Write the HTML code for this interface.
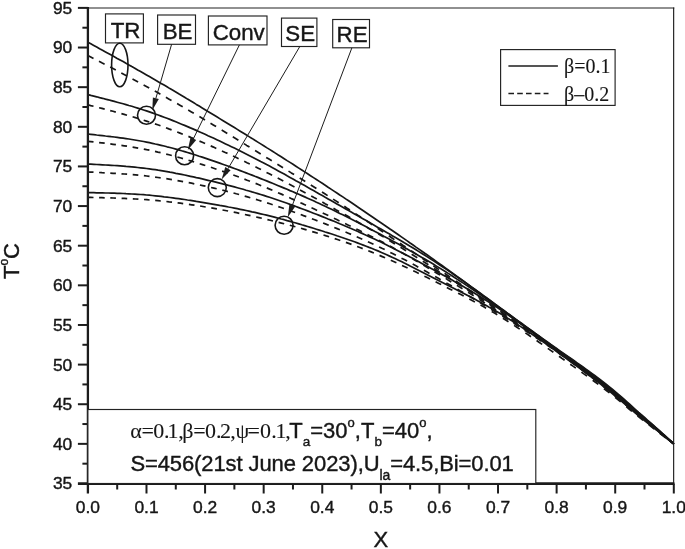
<!DOCTYPE html>
<html><head><meta charset="utf-8"><title>T vs X</title>
<style>html,body{margin:0;padding:0;background:#fff}svg{display:block}text{font-family:"Liberation Sans",Arial,sans-serif;fill:#161616;stroke:#161616;stroke-width:0.4px}.se{font-family:"Liberation Serif","Times New Roman",serif;stroke-width:0.1px}</style>
</head><body>
<svg width="685" height="549" viewBox="0 0 685 549">
<rect width="685" height="549" fill="#fff"/>
<g fill="none" stroke="#161616" stroke-width="1.7" stroke-linejoin="round">
<path d="M87.9 42.2 L90.8 43.8 L93.8 45.4 L96.7 47.0 L99.6 48.7 L102.5 50.3 L105.5 51.9 L108.4 53.5 L111.3 55.1 L114.3 56.7 L117.2 58.4 L120.1 60.0 L123.1 61.6 L126.0 63.3 L128.9 64.9 L131.8 66.6 L134.8 68.2 L137.7 69.9 L140.6 71.5 L143.6 73.2 L146.5 74.9 L149.4 76.6 L152.3 78.3 L155.3 80.0 L158.2 81.7 L161.1 83.4 L164.1 85.1 L167.0 86.8 L169.9 88.6 L172.9 90.3 L175.8 92.0 L178.7 93.8 L181.6 95.5 L184.6 97.3 L187.5 99.1 L190.4 100.8 L193.4 102.6 L196.3 104.4 L199.2 106.1 L202.2 107.9 L205.1 109.7 L208.0 111.5 L210.9 113.2 L213.9 115.0 L216.8 116.8 L219.7 118.6 L222.7 120.4 L225.6 122.2 L228.5 124.0 L231.4 125.8 L234.4 127.6 L237.3 129.4 L240.2 131.2 L243.2 133.0 L246.1 134.8 L249.0 136.6 L252.0 138.4 L254.9 140.3 L257.8 142.1 L260.7 143.9 L263.7 145.7 L266.6 147.6 L269.5 149.4 L272.5 151.3 L275.4 153.1 L278.3 155.0 L281.2 156.8 L284.2 158.7 L287.1 160.6 L290.0 162.4 L293.0 164.3 L295.9 166.2 L298.8 168.1 L301.8 170.0 L304.7 171.9 L307.6 173.8 L310.5 175.7 L313.5 177.6 L316.4 179.5 L319.3 181.4 L322.3 183.3 L325.2 185.2 L328.1 187.2 L331.0 189.1 L334.0 191.1 L336.9 193.0 L339.8 195.0 L342.8 196.9 L345.7 198.9 L348.6 200.8 L351.6 202.8 L354.5 204.8 L357.4 206.8 L360.3 208.7 L363.3 210.7 L366.2 212.7 L369.1 214.7 L372.1 216.7 L375.0 218.7 L377.9 220.7 L380.9 222.7 L383.8 224.7 L386.7 226.7 L389.6 228.8 L392.6 230.8 L395.5 232.8 L398.4 234.8 L401.4 236.9 L404.3 238.9 L407.2 240.9 L410.1 243.0 L413.1 245.0 L416.0 247.1 L418.9 249.1 L421.9 251.2 L424.8 253.3 L427.7 255.3 L430.7 257.4 L433.6 259.5 L436.5 261.6 L439.4 263.7 L442.4 265.8 L445.3 267.9 L448.2 270.0 L451.2 272.1 L454.1 274.3 L457.0 276.4 L459.9 278.5 L462.9 280.6 L465.8 282.8 L468.7 284.9 L471.7 287.1 L474.6 289.2 L477.5 291.4 L480.5 293.5 L483.4 295.7 L486.3 297.8 L489.2 300.0 L492.2 302.1 L495.1 304.3 L498.0 306.4 L501.0 308.6 L503.9 310.7 L506.8 312.9 L509.7 315.0 L512.7 317.2 L515.6 319.3 L518.5 321.4 L521.5 323.6 L524.4 325.7 L527.3 327.8 L530.3 330.0 L533.2 332.1 L536.1 334.2 L539.0 336.3 L542.0 338.5 L544.9 340.6 L547.8 342.7 L550.8 344.8 L553.7 346.9 L556.6 349.0 L559.5 351.0 L562.5 353.1 L565.4 355.2 L568.3 357.3 L571.3 359.3 L574.2 361.4 L577.1 363.5 L580.1 365.6 L583.0 367.7 L585.9 369.8 L588.8 372.0 L591.8 374.2 L594.7 376.3 L597.6 378.5 L600.6 380.8 L603.5 383.1 L606.4 385.4 L609.4 387.7 L612.3 390.1 L615.2 392.5 L618.1 395.0 L621.1 397.5 L624.0 400.0 L626.9 402.6 L629.9 405.2 L632.8 407.9 L635.7 410.5 L638.6 413.0 L641.6 415.6 L644.5 418.1 L647.4 420.6 L650.4 423.1 L653.3 425.6 L656.2 428.2 L659.2 430.8 L662.1 433.4 L665.0 436.0 L667.9 438.6 L670.9 441.2 L673.8 443.9"/>
<path d="M87.9 55.5 L90.7 56.9 L93.5 58.4M99.0 61.3 L101.8 62.8 L104.6 64.2M110.2 67.1 L113.0 68.6 L115.8 70.1M121.3 73.0 L124.1 74.5 L126.9 76.0M132.5 79.0 L135.3 80.5 L138.1 82.0M143.6 85.0 L146.4 86.5 L149.2 88.0M154.8 91.1 L157.6 92.6 L160.4 94.2M165.9 97.3 L168.7 98.9 L171.5 100.5M177.1 103.6 L179.9 105.2 L182.7 106.8M188.2 110.1 L191.0 111.7 L193.8 113.3M199.4 116.6 L202.2 118.2 L205.0 119.9M210.5 123.2 L213.3 124.9 L216.1 126.6M221.7 130.0 L224.5 131.7 L227.3 133.4M232.8 136.8 L235.6 138.5 L238.4 140.2M243.9 143.6 L246.7 145.4 L249.5 147.1M255.1 150.5 L257.9 152.2 L260.7 154.0M266.2 157.4 L269.0 159.1 L271.8 160.8M277.4 164.3 L280.2 166.0 L283.0 167.7M288.5 171.1 L291.3 172.9 L294.1 174.6M299.7 178.0 L302.5 179.8 L305.3 181.5M310.8 185.0 L313.6 186.7 L316.4 188.5M322.0 192.0 L324.8 193.8 L327.6 195.6M333.1 199.1 L335.9 200.9 L338.7 202.7M344.3 206.3 L347.1 208.2 L349.9 210.0M355.4 213.6 L358.2 215.5 L361.0 217.3M366.6 221.0 L369.4 222.8 L372.2 224.7M377.7 228.4 L380.5 230.2 L383.3 232.1M388.8 235.8 L391.6 237.7 L394.4 239.6M400.0 243.3 L402.8 245.2 L405.6 247.0M411.1 250.8 L413.9 252.7 L416.7 254.6M422.3 258.3 L425.1 260.2 L427.9 262.1M433.4 265.8 L436.2 267.7 L439.0 269.6M444.6 273.3 L447.4 275.2 L450.2 277.1M455.7 280.9 L458.5 282.8 L461.3 284.7M466.9 288.4 L469.7 290.3 L472.5 292.2M478.0 296.0 L480.8 297.9 L483.6 299.8M489.2 303.6 L492.0 305.5 L494.8 307.4M500.3 311.2 L503.1 313.1 L505.9 315.1M511.4 318.9 L514.2 320.8 L517.0 322.8M522.6 326.6 L525.4 328.5 L528.2 330.5M533.7 334.3 L536.5 336.3 L539.3 338.2M544.9 342.1 L547.7 344.1 L550.5 346.0M556.0 349.9 L558.8 351.9 L561.6 353.8M567.2 357.8 L570.0 359.7 L572.8 361.7M578.3 365.7 L581.1 367.7 L583.9 369.7M589.5 373.8 L592.3 375.9 L595.1 378.0M600.6 382.3 L603.4 384.4 L606.2 386.6M611.8 391.1 L614.6 393.4 L617.4 395.7M622.9 400.4 L625.7 402.9 L628.5 405.3M634.1 410.2 L636.9 412.6 L639.7 415.0M645.2 419.6 L648.0 422.0 L650.8 424.3M656.3 429.0 L659.1 431.4 L661.9 433.8M667.5 438.5 L670.3 440.9 L673.1 443.3"/>
<path d="M87.9 94.6 L90.8 95.4 L93.8 96.1 L96.7 96.8 L99.6 97.6 L102.5 98.3 L105.5 99.1 L108.4 99.8 L111.3 100.6 L114.3 101.4 L117.2 102.2 L120.1 103.0 L123.1 103.8 L126.0 104.6 L128.9 105.5 L131.8 106.3 L134.8 107.2 L137.7 108.1 L140.6 109.0 L143.6 110.0 L146.5 110.9 L149.4 111.9 L152.3 112.9 L155.3 114.0 L158.2 115.0 L161.1 116.1 L164.1 117.2 L167.0 118.3 L169.9 119.4 L172.9 120.6 L175.8 121.8 L178.7 123.0 L181.6 124.2 L184.6 125.4 L187.5 126.6 L190.4 127.9 L193.4 129.1 L196.3 130.4 L199.2 131.7 L202.2 133.0 L205.1 134.3 L208.0 135.7 L210.9 137.0 L213.9 138.3 L216.8 139.7 L219.7 141.1 L222.7 142.5 L225.6 143.9 L228.5 145.3 L231.4 146.7 L234.4 148.1 L237.3 149.5 L240.2 151.0 L243.2 152.5 L246.1 153.9 L249.0 155.4 L252.0 156.9 L254.9 158.4 L257.8 159.9 L260.7 161.5 L263.7 163.0 L266.6 164.6 L269.5 166.1 L272.5 167.7 L275.4 169.3 L278.3 170.9 L281.2 172.5 L284.2 174.1 L287.1 175.8 L290.0 177.4 L293.0 179.0 L295.9 180.7 L298.8 182.3 L301.8 184.0 L304.7 185.6 L307.6 187.3 L310.5 188.9 L313.5 190.6 L316.4 192.3 L319.3 193.9 L322.3 195.6 L325.2 197.3 L328.1 198.9 L331.0 200.6 L334.0 202.3 L336.9 203.9 L339.8 205.6 L342.8 207.3 L345.7 208.9 L348.6 210.6 L351.6 212.3 L354.5 213.9 L357.4 215.6 L360.3 217.3 L363.3 219.0 L366.2 220.6 L369.1 222.3 L372.1 224.0 L375.0 225.7 L377.9 227.4 L380.9 229.1 L383.8 230.7 L386.7 232.4 L389.6 234.1 L392.6 235.9 L395.5 237.6 L398.4 239.3 L401.4 241.0 L404.3 242.8 L407.2 244.5 L410.1 246.3 L413.1 248.0 L416.0 249.8 L418.9 251.6 L421.9 253.5 L424.8 255.3 L427.7 257.1 L430.7 259.0 L433.6 260.9 L436.5 262.8 L439.4 264.7 L442.4 266.7 L445.3 268.6 L448.2 270.6 L451.2 272.6 L454.1 274.7 L457.0 276.7 L459.9 278.7 L462.9 280.8 L465.8 282.9 L468.7 285.0 L471.7 287.1 L474.6 289.2 L477.5 291.3 L480.5 293.4 L483.4 295.6 L486.3 297.7 L489.2 299.8 L492.2 302.0 L495.1 304.1 L498.0 306.3 L501.0 308.4 L503.9 310.5 L506.8 312.7 L509.7 314.8 L512.7 316.9 L515.6 319.1 L518.5 321.2 L521.5 323.3 L524.4 325.5 L527.3 327.6 L530.3 329.7 L533.2 331.8 L536.1 333.9 L539.0 336.0 L542.0 338.1 L544.9 340.2 L547.8 342.3 L550.8 344.4 L553.7 346.4 L556.6 348.5 L559.5 350.6 L562.5 352.6 L565.4 354.7 L568.3 356.7 L571.3 358.8 L574.2 360.8 L577.1 362.9 L580.1 364.9 L583.0 367.0 L585.9 369.1 L588.8 371.2 L591.8 373.4 L594.7 375.5 L597.6 377.7 L600.6 380.0 L603.5 382.2 L606.4 384.5 L609.4 386.8 L612.3 389.2 L615.2 391.6 L618.1 394.1 L621.1 396.6 L624.0 399.2 L626.9 401.8 L629.9 404.5 L632.8 407.1 L635.7 409.8 L638.6 412.4 L641.6 414.9 L644.5 417.5 L647.4 420.1 L650.4 422.6 L653.3 425.2 L656.2 427.8 L659.2 430.4 L662.1 433.1 L665.0 435.7 L667.9 438.4 L670.9 441.1 L673.8 443.9"/>
<path d="M87.9 104.8 L90.7 105.6 L93.5 106.3M99.1 107.7 L101.9 108.4 L104.7 109.1M110.2 110.6 L113.0 111.3 L115.8 112.1M121.4 113.6 L124.2 114.4 L127.0 115.2M132.6 116.8 L135.4 117.6 L138.2 118.5M143.7 120.2 L146.5 121.1 L149.3 122.0M154.9 123.9 L157.7 124.8 L160.5 125.8M166.0 127.8 L168.8 128.9 L171.6 129.9M177.2 132.0 L180.0 133.1 L182.8 134.2M188.4 136.4 L191.2 137.6 L194.0 138.7M199.5 141.1 L202.3 142.3 L205.1 143.5M210.7 145.9 L213.5 147.1 L216.3 148.4M221.9 150.9 L224.7 152.2 L227.5 153.4M233.0 156.0 L235.8 157.3 L238.6 158.7M244.2 161.3 L247.0 162.7 L249.8 164.0M255.4 166.8 L258.2 168.2 L261.0 169.6M266.5 172.4 L269.3 173.8 L272.1 175.3M277.7 178.1 L280.5 179.6 L283.3 181.1M288.9 184.0 L291.7 185.5 L294.5 187.0M300.0 190.0 L302.8 191.5 L305.6 193.0M311.2 196.0 L314.0 197.6 L316.8 199.1M322.3 202.1 L325.1 203.7 L327.9 205.2M333.5 208.3 L336.3 209.9 L339.1 211.4M344.7 214.5 L347.5 216.1 L350.3 217.7M355.8 220.8 L358.6 222.4 L361.4 224.1M367.0 227.3 L369.8 228.9 L372.6 230.5M378.2 233.8 L381.0 235.5 L383.8 237.1M389.3 240.5 L392.1 242.2 L394.9 243.9M400.5 247.3 L403.3 249.0 L406.1 250.8M411.7 254.2 L414.5 256.0 L417.3 257.7M422.8 261.3 L425.6 263.0 L428.4 264.8M434.0 268.4 L436.8 270.2 L439.6 272.0M445.1 275.5 L447.9 277.3 L450.7 279.1M456.3 282.8 L459.1 284.6 L461.9 286.4M467.5 290.0 L470.3 291.9 L473.1 293.7M478.6 297.4 L481.4 299.2 L484.2 301.1M489.8 304.8 L492.6 306.7 L495.4 308.5M501.0 312.3 L503.8 314.2 L506.6 316.1M512.1 319.8 L514.9 321.8 L517.7 323.7M523.3 327.5 L526.1 329.4 L528.9 331.3M534.5 335.2 L537.3 337.1 L540.1 339.1M545.6 343.0 L548.4 344.9 L551.2 346.9M556.8 350.8 L559.6 352.8 L562.4 354.8M568.0 358.7 L570.8 360.7 L573.6 362.7M579.1 366.7 L581.9 368.8 L584.7 370.8M590.3 374.9 L593.1 377.0 L595.9 379.2M601.4 383.5 L604.2 385.6 L607.0 387.9M612.6 392.4 L615.4 394.7 L618.2 397.0M623.8 401.7 L626.6 404.2 L629.4 406.6M634.9 411.4 L637.7 413.8 L640.5 416.2M646.1 420.8 L648.9 423.1 L651.7 425.4M657.3 430.0 L660.1 432.4 L662.9 434.7M668.4 439.4 L671.1 441.6 L673.8 443.9"/>
<path d="M87.9 134.0 L90.8 134.3 L93.8 134.6 L96.7 135.0 L99.6 135.3 L102.5 135.6 L105.5 136.0 L108.4 136.3 L111.3 136.7 L114.3 137.0 L117.2 137.4 L120.1 137.8 L123.1 138.2 L126.0 138.6 L128.9 139.0 L131.8 139.5 L134.8 140.0 L137.7 140.5 L140.6 141.0 L143.6 141.5 L146.5 142.1 L149.4 142.7 L152.3 143.3 L155.3 144.0 L158.2 144.6 L161.1 145.3 L164.1 146.0 L167.0 146.8 L169.9 147.5 L172.9 148.3 L175.8 149.1 L178.7 149.9 L181.6 150.8 L184.6 151.6 L187.5 152.5 L190.4 153.4 L193.4 154.3 L196.3 155.2 L199.2 156.2 L202.2 157.1 L205.1 158.1 L208.0 159.1 L210.9 160.1 L213.9 161.1 L216.8 162.1 L219.7 163.1 L222.7 164.2 L225.6 165.2 L228.5 166.3 L231.4 167.4 L234.4 168.5 L237.3 169.5 L240.2 170.6 L243.2 171.8 L246.1 172.9 L249.0 174.0 L252.0 175.1 L254.9 176.3 L257.8 177.4 L260.7 178.6 L263.7 179.8 L266.6 180.9 L269.5 182.1 L272.5 183.3 L275.4 184.5 L278.3 185.7 L281.2 186.9 L284.2 188.1 L287.1 189.3 L290.0 190.6 L293.0 191.8 L295.9 193.1 L298.8 194.3 L301.8 195.6 L304.7 196.9 L307.6 198.2 L310.5 199.5 L313.5 200.8 L316.4 202.2 L319.3 203.5 L322.3 204.9 L325.2 206.3 L328.1 207.7 L331.0 209.1 L334.0 210.5 L336.9 211.9 L339.8 213.4 L342.8 214.8 L345.7 216.3 L348.6 217.8 L351.6 219.3 L354.5 220.8 L357.4 222.3 L360.3 223.8 L363.3 225.3 L366.2 226.8 L369.1 228.4 L372.1 229.9 L375.0 231.5 L377.9 233.0 L380.9 234.6 L383.8 236.2 L386.7 237.7 L389.6 239.3 L392.6 240.9 L395.5 242.5 L398.4 244.1 L401.4 245.7 L404.3 247.4 L407.2 249.0 L410.1 250.7 L413.1 252.3 L416.0 254.0 L418.9 255.7 L421.9 257.4 L424.8 259.1 L427.7 260.8 L430.7 262.6 L433.6 264.3 L436.5 266.1 L439.4 267.9 L442.4 269.7 L445.3 271.5 L448.2 273.4 L451.2 275.3 L454.1 277.2 L457.0 279.1 L459.9 281.0 L462.9 282.9 L465.8 284.9 L468.7 286.8 L471.7 288.8 L474.6 290.8 L477.5 292.8 L480.5 294.8 L483.4 296.8 L486.3 298.9 L489.2 300.9 L492.2 303.0 L495.1 305.1 L498.0 307.1 L501.0 309.2 L503.9 311.3 L506.8 313.4 L509.7 315.5 L512.7 317.6 L515.6 319.8 L518.5 321.9 L521.5 324.0 L524.4 326.1 L527.3 328.3 L530.3 330.4 L533.2 332.6 L536.1 334.7 L539.0 336.8 L542.0 339.0 L544.9 341.1 L547.8 343.3 L550.8 345.4 L553.7 347.5 L556.6 349.6 L559.5 351.8 L562.5 353.9 L565.4 356.0 L568.3 358.1 L571.3 360.2 L574.2 362.3 L577.1 364.5 L580.1 366.6 L583.0 368.7 L585.9 370.9 L588.8 373.1 L591.8 375.2 L594.7 377.4 L597.6 379.7 L600.6 381.9 L603.5 384.2 L606.4 386.5 L609.4 388.9 L612.3 391.2 L615.2 393.6 L618.1 396.1 L621.1 398.6 L624.0 401.1 L626.9 403.7 L629.9 406.3 L632.8 408.8 L635.7 411.4 L638.6 413.9 L641.6 416.4 L644.5 418.9 L647.4 421.3 L650.4 423.8 L653.3 426.3 L656.2 428.7 L659.2 431.2 L662.1 433.8 L665.0 436.3 L667.9 438.8 L670.9 441.3 L673.8 443.9"/>
<path d="M87.9 141.3 L90.7 141.6 L93.5 141.9M99.1 142.6 L101.9 142.9 L104.7 143.2M110.3 143.9 L113.1 144.3 L115.9 144.7M121.4 145.4 L124.2 145.8 L127.0 146.2M132.6 147.1 L135.4 147.6 L138.2 148.1M143.8 149.1 L146.6 149.7 L149.4 150.2M155.0 151.4 L157.8 152.1 L160.6 152.7M166.2 154.1 L169.0 154.8 L171.8 155.5M177.4 157.1 L180.2 157.8 L183.0 158.6M188.5 160.3 L191.3 161.1 L194.1 162.0M199.7 163.7 L202.5 164.6 L205.3 165.5M210.9 167.3 L213.7 168.2 L216.5 169.2M222.1 171.1 L224.9 172.0 L227.7 173.0M233.3 175.0 L236.1 176.0 L238.9 177.0M244.4 179.1 L247.2 180.2 L250.0 181.2M255.6 183.4 L258.4 184.5 L261.2 185.7M266.8 187.9 L269.6 189.1 L272.4 190.3M278.0 192.7 L280.8 193.9 L283.6 195.1M289.2 197.6 L292.0 198.9 L294.8 200.1M300.4 202.7 L303.2 203.9 L306.0 205.2M311.5 207.8 L314.3 209.1 L317.1 210.4M322.7 213.0 L325.5 214.3 L328.3 215.6M333.9 218.3 L336.7 219.6 L339.5 220.9M345.1 223.6 L347.9 224.9 L350.7 226.2M356.3 228.9 L359.1 230.3 L361.9 231.7M367.5 234.5 L370.3 235.9 L373.1 237.3M378.6 240.2 L381.4 241.6 L384.2 243.1M389.8 246.1 L392.6 247.6 L395.4 249.2M401.0 252.2 L403.8 253.8 L406.6 255.4M412.2 258.6 L415.0 260.2 L417.8 261.8M423.4 265.0 L426.2 266.7 L429.0 268.4M434.5 271.7 L437.3 273.4 L440.1 275.1M445.7 278.4 L448.5 280.2 L451.3 281.9M456.9 285.3 L459.7 287.1 L462.5 288.8M468.1 292.3 L470.9 294.1 L473.7 295.8M479.3 299.4 L482.1 301.2 L484.9 303.0M490.5 306.6 L493.3 308.4 L496.1 310.2M501.6 313.8 L504.4 315.7 L507.2 317.5M512.8 321.2 L515.6 323.1 L518.4 324.9M524.0 328.7 L526.8 330.6 L529.6 332.4M535.2 336.2 L538.0 338.1 L540.8 340.1M546.4 343.9 L549.2 345.8 L552.0 347.8M557.5 351.7 L560.3 353.7 L563.1 355.7M568.7 359.6 L571.5 361.6 L574.3 363.7M579.9 367.7 L582.7 369.8 L585.5 371.9M591.1 376.1 L593.9 378.2 L596.7 380.4M602.3 384.7 L605.1 386.9 L607.9 389.2M613.5 393.7 L616.3 396.0 L619.1 398.4M624.6 403.1 L627.4 405.6 L630.2 408.0M635.8 412.8 L638.6 415.1 L641.4 417.4M647.0 422.0 L649.8 424.2 L652.6 426.5M658.2 431.1 L661.0 433.4 L663.8 435.7M669.4 440.3 L671.6 442.1 L673.8 443.9"/>
<path d="M87.9 164.1 L90.8 164.2 L93.8 164.3 L96.7 164.5 L99.6 164.6 L102.5 164.8 L105.5 165.0 L108.4 165.1 L111.3 165.3 L114.3 165.5 L117.2 165.7 L120.1 165.9 L123.1 166.1 L126.0 166.4 L128.9 166.6 L131.8 166.9 L134.8 167.2 L137.7 167.5 L140.6 167.8 L143.6 168.1 L146.5 168.5 L149.4 168.9 L152.3 169.3 L155.3 169.7 L158.2 170.2 L161.1 170.6 L164.1 171.1 L167.0 171.6 L169.9 172.2 L172.9 172.7 L175.8 173.3 L178.7 173.8 L181.6 174.4 L184.6 175.0 L187.5 175.7 L190.4 176.3 L193.4 176.9 L196.3 177.6 L199.2 178.2 L202.2 178.9 L205.1 179.6 L208.0 180.3 L210.9 181.0 L213.9 181.7 L216.8 182.4 L219.7 183.1 L222.7 183.9 L225.6 184.6 L228.5 185.4 L231.4 186.1 L234.4 186.9 L237.3 187.7 L240.2 188.5 L243.2 189.3 L246.1 190.2 L249.0 191.0 L252.0 191.9 L254.9 192.7 L257.8 193.6 L260.7 194.5 L263.7 195.4 L266.6 196.4 L269.5 197.3 L272.5 198.3 L275.4 199.3 L278.3 200.3 L281.2 201.3 L284.2 202.3 L287.1 203.3 L290.0 204.4 L293.0 205.4 L295.9 206.5 L298.8 207.6 L301.8 208.7 L304.7 209.8 L307.6 210.9 L310.5 212.0 L313.5 213.2 L316.4 214.3 L319.3 215.4 L322.3 216.6 L325.2 217.8 L328.1 219.0 L331.0 220.1 L334.0 221.3 L336.9 222.5 L339.8 223.8 L342.8 225.0 L345.7 226.2 L348.6 227.5 L351.6 228.7 L354.5 230.0 L357.4 231.3 L360.3 232.6 L363.3 233.9 L366.2 235.3 L369.1 236.6 L372.1 238.0 L375.0 239.3 L377.9 240.7 L380.9 242.1 L383.8 243.6 L386.7 245.0 L389.6 246.5 L392.6 247.9 L395.5 249.4 L398.4 250.9 L401.4 252.4 L404.3 254.0 L407.2 255.5 L410.1 257.1 L413.1 258.6 L416.0 260.2 L418.9 261.8 L421.9 263.4 L424.8 265.0 L427.7 266.6 L430.7 268.2 L433.6 269.8 L436.5 271.4 L439.4 273.0 L442.4 274.7 L445.3 276.3 L448.2 278.0 L451.2 279.6 L454.1 281.3 L457.0 282.9 L459.9 284.6 L462.9 286.3 L465.8 288.0 L468.7 289.8 L471.7 291.5 L474.6 293.3 L477.5 295.0 L480.5 296.8 L483.4 298.6 L486.3 300.5 L489.2 302.3 L492.2 304.2 L495.1 306.1 L498.0 308.1 L501.0 310.1 L503.9 312.0 L506.8 314.1 L509.7 316.1 L512.7 318.2 L515.6 320.3 L518.5 322.4 L521.5 324.5 L524.4 326.6 L527.3 328.7 L530.3 330.9 L533.2 333.1 L536.1 335.2 L539.0 337.4 L542.0 339.6 L544.9 341.8 L547.8 344.0 L550.8 346.1 L553.7 348.3 L556.6 350.5 L559.5 352.7 L562.5 354.8 L565.4 357.0 L568.3 359.1 L571.3 361.3 L574.2 363.4 L577.1 365.6 L580.1 367.7 L583.0 369.9 L585.9 372.1 L588.8 374.2 L591.8 376.4 L594.7 378.7 L597.6 380.9 L600.6 383.1 L603.5 385.4 L606.4 387.7 L609.4 390.1 L612.3 392.4 L615.2 394.8 L618.1 397.2 L621.1 399.7 L624.0 402.2 L626.9 404.7 L629.9 407.3 L632.8 409.8 L635.7 412.3 L638.6 414.8 L641.6 417.2 L644.5 419.7 L647.4 422.1 L650.4 424.5 L653.3 426.9 L656.2 429.3 L659.2 431.7 L662.1 434.2 L665.0 436.6 L667.9 439.0 L670.9 441.5 L673.8 443.9"/>
<path d="M87.9 172.0 L90.7 172.1 L93.5 172.2M99.1 172.5 L101.9 172.7 L104.7 172.8M110.3 173.1 L113.1 173.3 L115.9 173.4M121.5 173.8 L124.3 174.0 L127.1 174.2M132.7 174.7 L135.5 174.9 L138.3 175.2M143.9 175.7 L146.7 176.0 L149.5 176.4M155.1 177.1 L157.9 177.5 L160.7 177.9M166.3 178.7 L169.1 179.1 L171.9 179.6M177.5 180.6 L180.3 181.1 L183.1 181.6M188.7 182.7 L191.5 183.2 L194.3 183.8M199.9 185.0 L202.7 185.6 L205.5 186.2M211.1 187.5 L213.9 188.1 L216.7 188.8M222.3 190.1 L225.1 190.8 L227.9 191.6M233.5 193.0 L236.3 193.8 L239.1 194.5M244.7 196.1 L247.5 196.9 L250.3 197.7M255.9 199.4 L258.7 200.2 L261.5 201.1M267.1 202.9 L269.9 203.8 L272.7 204.7M278.3 206.6 L281.1 207.5 L283.9 208.5M289.5 210.5 L292.3 211.5 L295.1 212.5M300.7 214.5 L303.5 215.6 L306.3 216.6M311.9 218.7 L314.7 219.8 L317.5 220.9M323.1 223.0 L325.9 224.1 L328.7 225.2M334.3 227.5 L337.1 228.6 L339.9 229.7M345.5 232.0 L348.3 233.2 L351.1 234.4M356.7 236.8 L359.5 238.0 L362.3 239.2M367.9 241.7 L370.7 243.0 L373.5 244.3M379.1 246.9 L381.9 248.3 L384.7 249.6M390.3 252.4 L393.1 253.8 L395.9 255.3M401.5 258.2 L404.3 259.6 L407.1 261.1M412.7 264.1 L415.5 265.6 L418.3 267.2M423.9 270.3 L426.7 271.8 L429.5 273.4M435.1 276.5 L437.9 278.1 L440.7 279.7M446.3 282.9 L449.1 284.5 L451.9 286.1M457.5 289.3 L460.3 291.0 L463.1 292.6M468.7 295.9 L471.5 297.5 L474.3 299.2M479.9 302.5 L482.7 304.2 L485.5 305.9M491.1 309.2 L493.9 310.9 L496.7 312.7M502.3 316.1 L505.1 317.8 L507.9 319.6M513.5 323.1 L516.3 324.9 L519.1 326.6M524.7 330.2 L527.5 332.0 L530.3 333.9M535.9 337.5 L538.7 339.4 L541.5 341.3M547.1 345.0 L549.9 346.9 L552.7 348.9M558.3 352.7 L561.1 354.7 L563.9 356.7M569.5 360.7 L572.3 362.7 L575.1 364.7M580.7 368.9 L583.5 371.0 L586.3 373.1M591.9 377.3 L594.7 379.5 L597.5 381.7M603.1 386.1 L605.9 388.4 L608.7 390.6M614.3 395.2 L617.1 397.5 L619.9 399.9M625.5 404.7 L628.3 407.0 L631.1 409.4M636.7 414.1 L639.5 416.4 L642.3 418.7M647.9 423.2 L650.7 425.4 L653.5 427.7M659.1 432.2 L661.9 434.5 L664.7 436.7M670.3 441.1 L672.1 442.5 L673.8 443.9"/>
<path d="M87.9 192.6 L90.8 192.6 L93.8 192.7 L96.7 192.8 L99.6 192.8 L102.5 192.9 L105.5 193.0 L108.4 193.0 L111.3 193.1 L114.3 193.2 L117.2 193.3 L120.1 193.4 L123.1 193.5 L126.0 193.7 L128.9 193.8 L131.8 194.0 L134.8 194.1 L137.7 194.3 L140.6 194.5 L143.6 194.7 L146.5 195.0 L149.4 195.2 L152.3 195.5 L155.3 195.8 L158.2 196.1 L161.1 196.4 L164.1 196.8 L167.0 197.1 L169.9 197.5 L172.9 197.9 L175.8 198.3 L178.7 198.7 L181.6 199.1 L184.6 199.5 L187.5 200.0 L190.4 200.4 L193.4 200.9 L196.3 201.4 L199.2 201.8 L202.2 202.3 L205.1 202.8 L208.0 203.3 L210.9 203.8 L213.9 204.3 L216.8 204.8 L219.7 205.4 L222.7 205.9 L225.6 206.4 L228.5 207.0 L231.4 207.5 L234.4 208.1 L237.3 208.7 L240.2 209.3 L243.2 209.9 L246.1 210.5 L249.0 211.1 L252.0 211.8 L254.9 212.4 L257.8 213.1 L260.7 213.8 L263.7 214.5 L266.6 215.2 L269.5 215.9 L272.5 216.6 L275.4 217.4 L278.3 218.2 L281.2 219.0 L284.2 219.7 L287.1 220.6 L290.0 221.4 L293.0 222.2 L295.9 223.0 L298.8 223.9 L301.8 224.8 L304.7 225.6 L307.6 226.5 L310.5 227.4 L313.5 228.3 L316.4 229.2 L319.3 230.1 L322.3 231.0 L325.2 232.0 L328.1 232.9 L331.0 233.8 L334.0 234.8 L336.9 235.8 L339.8 236.7 L342.8 237.7 L345.7 238.7 L348.6 239.7 L351.6 240.8 L354.5 241.8 L357.4 242.9 L360.3 244.0 L363.3 245.1 L366.2 246.2 L369.1 247.4 L372.1 248.5 L375.0 249.7 L377.9 250.9 L380.9 252.2 L383.8 253.5 L386.7 254.8 L389.6 256.1 L392.6 257.5 L395.5 258.8 L398.4 260.2 L401.4 261.6 L404.3 263.1 L407.2 264.5 L410.1 266.0 L413.1 267.4 L416.0 268.9 L418.9 270.4 L421.9 271.9 L424.8 273.4 L427.7 274.9 L430.7 276.4 L433.6 277.9 L436.5 279.4 L439.4 280.9 L442.4 282.4 L445.3 283.9 L448.2 285.4 L451.2 286.9 L454.1 288.4 L457.0 289.9 L459.9 291.4 L462.9 292.9 L465.8 294.4 L468.7 296.0 L471.7 297.5 L474.6 299.1 L477.5 300.7 L480.5 302.3 L483.4 303.9 L486.3 305.5 L489.2 307.2 L492.2 308.8 L495.1 310.6 L498.0 312.3 L501.0 314.0 L503.9 315.8 L506.8 317.6 L509.7 319.5 L512.7 321.3 L515.6 323.2 L518.5 325.1 L521.5 327.1 L524.4 329.0 L527.3 331.0 L530.3 333.0 L533.2 335.0 L536.1 337.0 L539.0 339.0 L542.0 341.1 L544.9 343.1 L547.8 345.2 L550.8 347.3 L553.7 349.4 L556.6 351.5 L559.5 353.6 L562.5 355.7 L565.4 357.8 L568.3 360.0 L571.3 362.1 L574.2 364.2 L577.1 366.4 L580.1 368.6 L583.0 370.8 L585.9 373.0 L588.8 375.2 L591.8 377.4 L594.7 379.7 L597.6 381.9 L600.6 384.2 L603.5 386.5 L606.4 388.9 L609.4 391.2 L612.3 393.6 L615.2 396.0 L618.1 398.4 L621.1 400.9 L624.0 403.4 L626.9 405.9 L629.9 408.4 L632.8 410.9 L635.7 413.3 L638.6 415.7 L641.6 418.1 L644.5 420.5 L647.4 422.8 L650.4 425.2 L653.3 427.5 L656.2 429.9 L659.2 432.2 L662.1 434.6 L665.0 437.0 L667.9 439.3 L670.9 441.6 L673.8 443.9"/>
<path d="M87.9 197.3 L90.7 197.4 L93.5 197.5M99.1 197.6 L101.9 197.7 L104.7 197.8M110.3 197.9 L113.1 198.0 L115.9 198.1M121.6 198.3 L124.4 198.4 L127.2 198.6M132.8 198.9 L135.6 199.0 L138.4 199.2M144.0 199.5 L146.8 199.7 L149.6 200.0M155.2 200.4 L158.0 200.7 L160.8 201.0M166.4 201.5 L169.2 201.9 L172.0 202.2M177.6 202.9 L180.4 203.2 L183.2 203.6M188.9 204.4 L191.7 204.8 L194.5 205.2M200.1 206.0 L202.9 206.5 L205.7 207.0M211.3 207.9 L214.1 208.4 L216.9 208.9M222.5 210.0 L225.3 210.5 L228.1 211.0M233.7 212.2 L236.5 212.7 L239.3 213.3M244.9 214.5 L247.7 215.1 L250.5 215.7M256.2 217.0 L259.0 217.6 L261.8 218.3M267.4 219.6 L270.2 220.3 L273.0 221.0M278.6 222.4 L281.4 223.1 L284.2 223.8M289.8 225.3 L292.6 226.0 L295.4 226.8M301.0 228.3 L303.8 229.1 L306.6 229.9M312.2 231.6 L315.0 232.4 L317.8 233.2M323.5 235.0 L326.3 235.9 L329.1 236.7M334.7 238.6 L337.5 239.5 L340.3 240.5M345.9 242.4 L348.7 243.4 L351.5 244.4M357.1 246.5 L359.9 247.5 L362.7 248.6M368.3 250.8 L371.1 251.9 L373.9 253.0M379.5 255.4 L382.3 256.6 L385.1 257.8M390.8 260.3 L393.6 261.5 L396.4 262.8M402.0 265.4 L404.8 266.7 L407.6 268.1M413.2 270.8 L416.0 272.1 L418.8 273.5M424.4 276.3 L427.2 277.6 L430.0 279.0M435.6 281.8 L438.4 283.2 L441.2 284.6M446.8 287.5 L449.6 288.9 L452.4 290.3M458.1 293.2 L460.9 294.6 L463.7 296.1M469.3 299.0 L472.1 300.5 L474.9 302.0M480.5 305.1 L483.3 306.6 L486.1 308.2M491.7 311.5 L494.5 313.1 L497.3 314.8M502.9 318.2 L505.7 320.0 L508.5 321.8M514.1 325.4 L516.9 327.2 L519.7 329.1M525.4 332.9 L528.2 334.8 L531.0 336.7M536.6 340.5 L539.4 342.5 L542.2 344.4M547.8 348.4 L550.6 350.4 L553.4 352.3M559.0 356.3 L561.8 358.3 L564.6 360.2M570.2 364.2 L573.0 366.1 L575.8 368.1M581.4 372.1 L584.2 374.1 L587.0 376.1M592.7 380.2 L595.5 382.3 L598.3 384.4M603.9 388.6 L606.7 390.8 L609.5 392.9M615.1 397.4 L617.9 399.6 L620.7 401.9M626.3 406.6 L629.1 409.0 L631.9 411.3M637.5 415.9 L640.3 418.2 L643.1 420.4M648.7 424.7 L651.5 426.9 L654.3 429.1M660.0 433.5 L662.8 435.6 L665.6 437.8M671.2 441.9 L672.5 442.9 L673.8 443.9"/>
</g>
<g stroke="#1c1c1c" fill="none">
<line x1="86.9" y1="7.95" x2="674.3" y2="7.95" stroke-width="1.1" stroke="#222"/>
<line x1="673.65" y1="7.4" x2="673.65" y2="483.5" stroke-width="1.15" stroke="#1c1c1c"/>
<line x1="87.9" y1="6.9" x2="87.9" y2="493.5" stroke-width="2.3"/>
<line x1="77.9" y1="483.6" x2="674.4" y2="483.6" stroke-width="2.7"/>
<line x1="82.4" y1="463.68" x2="87.9" y2="463.68" stroke-width="2"/>
<line x1="77.9" y1="443.87" x2="87.9" y2="443.87" stroke-width="2"/>
<line x1="82.4" y1="424.05" x2="87.9" y2="424.05" stroke-width="2"/>
<line x1="77.9" y1="404.23" x2="87.9" y2="404.23" stroke-width="2"/>
<line x1="82.4" y1="384.42" x2="87.9" y2="384.42" stroke-width="2"/>
<line x1="77.9" y1="364.60" x2="87.9" y2="364.60" stroke-width="2"/>
<line x1="82.4" y1="344.78" x2="87.9" y2="344.78" stroke-width="2"/>
<line x1="77.9" y1="324.97" x2="87.9" y2="324.97" stroke-width="2"/>
<line x1="82.4" y1="305.15" x2="87.9" y2="305.15" stroke-width="2"/>
<line x1="77.9" y1="285.33" x2="87.9" y2="285.33" stroke-width="2"/>
<line x1="82.4" y1="265.52" x2="87.9" y2="265.52" stroke-width="2"/>
<line x1="77.9" y1="245.70" x2="87.9" y2="245.70" stroke-width="2"/>
<line x1="82.4" y1="225.88" x2="87.9" y2="225.88" stroke-width="2"/>
<line x1="77.9" y1="206.07" x2="87.9" y2="206.07" stroke-width="2"/>
<line x1="82.4" y1="186.25" x2="87.9" y2="186.25" stroke-width="2"/>
<line x1="77.9" y1="166.43" x2="87.9" y2="166.43" stroke-width="2"/>
<line x1="82.4" y1="146.62" x2="87.9" y2="146.62" stroke-width="2"/>
<line x1="77.9" y1="126.80" x2="87.9" y2="126.80" stroke-width="2"/>
<line x1="82.4" y1="106.98" x2="87.9" y2="106.98" stroke-width="2"/>
<line x1="77.9" y1="87.17" x2="87.9" y2="87.17" stroke-width="2"/>
<line x1="82.4" y1="67.35" x2="87.9" y2="67.35" stroke-width="2"/>
<line x1="77.9" y1="47.53" x2="87.9" y2="47.53" stroke-width="2"/>
<line x1="82.4" y1="27.72" x2="87.9" y2="27.72" stroke-width="2"/>
<line x1="77.9" y1="7.90" x2="87.9" y2="7.90" stroke-width="2"/>
<line x1="117.20" y1="483.5" x2="117.20" y2="489.5" stroke-width="2"/>
<line x1="146.49" y1="483.5" x2="146.49" y2="493.5" stroke-width="2"/>
<line x1="175.79" y1="483.5" x2="175.79" y2="489.5" stroke-width="2"/>
<line x1="205.08" y1="483.5" x2="205.08" y2="493.5" stroke-width="2"/>
<line x1="234.38" y1="483.5" x2="234.38" y2="489.5" stroke-width="2"/>
<line x1="263.67" y1="483.5" x2="263.67" y2="493.5" stroke-width="2"/>
<line x1="292.96" y1="483.5" x2="292.96" y2="489.5" stroke-width="2"/>
<line x1="322.26" y1="483.5" x2="322.26" y2="493.5" stroke-width="2"/>
<line x1="351.55" y1="483.5" x2="351.55" y2="489.5" stroke-width="2"/>
<line x1="380.85" y1="483.5" x2="380.85" y2="493.5" stroke-width="2"/>
<line x1="410.14" y1="483.5" x2="410.14" y2="489.5" stroke-width="2"/>
<line x1="439.44" y1="483.5" x2="439.44" y2="493.5" stroke-width="2"/>
<line x1="468.74" y1="483.5" x2="468.74" y2="489.5" stroke-width="2"/>
<line x1="498.03" y1="483.5" x2="498.03" y2="493.5" stroke-width="2"/>
<line x1="527.32" y1="483.5" x2="527.32" y2="489.5" stroke-width="2"/>
<line x1="556.62" y1="483.5" x2="556.62" y2="493.5" stroke-width="2"/>
<line x1="585.92" y1="483.5" x2="585.92" y2="489.5" stroke-width="2"/>
<line x1="615.21" y1="483.5" x2="615.21" y2="493.5" stroke-width="2"/>
<line x1="644.50" y1="483.5" x2="644.50" y2="489.5" stroke-width="2"/>
<line x1="673.80" y1="483.5" x2="673.80" y2="493.5" stroke-width="2"/>
</g>
<g font-size="17.4">
<text x="72.3" y="489.4" text-anchor="end">35</text>
<text x="72.3" y="449.8" text-anchor="end">40</text>
<text x="72.3" y="410.1" text-anchor="end">45</text>
<text x="72.3" y="370.5" text-anchor="end">50</text>
<text x="72.3" y="330.9" text-anchor="end">55</text>
<text x="72.3" y="291.2" text-anchor="end">60</text>
<text x="72.3" y="251.6" text-anchor="end">65</text>
<text x="72.3" y="212.0" text-anchor="end">70</text>
<text x="72.3" y="172.3" text-anchor="end">75</text>
<text x="72.3" y="132.7" text-anchor="end">80</text>
<text x="72.3" y="93.1" text-anchor="end">85</text>
<text x="72.3" y="53.4" text-anchor="end">90</text>
<text x="72.3" y="13.8" text-anchor="end">95</text>
<text x="87.9" y="513.2" text-anchor="middle">0.0</text>
<text x="146.5" y="513.2" text-anchor="middle">0.1</text>
<text x="205.1" y="513.2" text-anchor="middle">0.2</text>
<text x="263.7" y="513.2" text-anchor="middle">0.3</text>
<text x="322.3" y="513.2" text-anchor="middle">0.4</text>
<text x="380.9" y="513.2" text-anchor="middle">0.5</text>
<text x="439.4" y="513.2" text-anchor="middle">0.6</text>
<text x="498.0" y="513.2" text-anchor="middle">0.7</text>
<text x="556.6" y="513.2" text-anchor="middle">0.8</text>
<text x="615.2" y="513.2" text-anchor="middle">0.9</text>
<text x="673.8" y="513.2" text-anchor="middle">1.0</text>
</g>
<text x="380.9" y="547.2" font-size="22" text-anchor="middle">X</text>
<text transform="translate(19.4 279) rotate(-90) scale(1 1.03)" font-size="22">T<tspan font-size="12" dy="-11.2">o</tspan><tspan dy="11.2">C</tspan></text>
<rect x="105.5" y="13.9" width="37.9" height="29.0" fill="#fff" stroke="#222" stroke-width="1.15"/>
<text x="125.5" y="37.5" font-size="22.3" text-anchor="middle">TR</text>
<rect x="157.6" y="15" width="37.9" height="29.3" fill="#fff" stroke="#222" stroke-width="1.15"/>
<text x="177.6" y="38.9" font-size="22.3" text-anchor="middle">BE</text>
<rect x="208.4" y="16" width="58.6" height="28.9" fill="#fff" stroke="#222" stroke-width="1.15"/>
<text x="238.7" y="39.5" font-size="22.3" text-anchor="middle">Conv</text>
<rect x="281.5" y="18.1" width="35.4" height="28.4" fill="#fff" stroke="#222" stroke-width="1.15"/>
<text x="300.2" y="41.1" font-size="22.3" text-anchor="middle">SE</text>
<rect x="332.7" y="19.5" width="36.8" height="28.3" fill="#fff" stroke="#222" stroke-width="1.15"/>
<text x="352.1" y="42.4" font-size="22.3" text-anchor="middle">RE</text>
<g fill="none" stroke="#161616" stroke-width="1.6">
<ellipse cx="119.8" cy="65" rx="8.2" ry="21.7"/>
<circle cx="146.5" cy="115.3" r="9"/>
<circle cx="184.6" cy="155.8" r="9"/>
<circle cx="217.3" cy="187.6" r="9"/>
<circle cx="284.1" cy="225.3" r="9"/>
</g>
<line x1="171.6" y1="44.3" x2="155.9" y2="98.2" stroke="#1c1c1c" stroke-width="1"/>
<polygon points="152.3,110.3 152.9,97.4 158.8,99.1" fill="#1c1c1c"/>
<line x1="239.4" y1="44.9" x2="193.4" y2="138.7" stroke="#1c1c1c" stroke-width="1"/>
<polygon points="187.8,150.0 190.6,137.3 196.2,140.1" fill="#1c1c1c"/>
<line x1="299.8" y1="46.5" x2="228.0" y2="168.7" stroke="#1c1c1c" stroke-width="1"/>
<polygon points="221.6,179.5 225.3,167.1 230.6,170.2" fill="#1c1c1c"/>
<line x1="351.9" y1="47.8" x2="292.3" y2="205.4" stroke="#1c1c1c" stroke-width="1"/>
<polygon points="287.8,217.2 289.4,204.3 295.2,206.5" fill="#1c1c1c"/>
<rect x="500.6" y="49.6" width="114.5" height="55.8" fill="#fff" stroke="#222" stroke-width="1.15"/>
<line x1="508.4" y1="66" x2="557.9" y2="66" stroke="#1c1c1c" stroke-width="1.4"/>
<line x1="508.4" y1="93.5" x2="548.5" y2="93.5" stroke="#1c1c1c" stroke-width="1.4" stroke-dasharray="5.6 3.2"/>
<text class="se" x="564" y="73.1" font-size="20">β=0.1</text>
<text class="se" x="564" y="100.7" font-size="20">β–0.2</text>
<rect x="87.9" y="409.5" width="447.9" height="74.0" fill="#fff" stroke="#222" stroke-width="1.15"/>
<text class="se" y="437.5" font-size="22" x="130.3 141.5 153.3 163.9 167.6 178.3 182.2 193.2 205 215.9 219.9 230.3 235.4 247.5 260 271.3 275.6 285.2">α=0.1,β=0.2,ψ=0.1,</text>
<text x="289.3" y="437.5" font-size="22">T<tspan font-size="13.5" dy="8.7">a</tspan><tspan dy="-8.7">=30</tspan><tspan font-size="13" dy="-10.7">o</tspan><tspan dy="10.7">,T</tspan><tspan font-size="13.5" dy="8.7">b</tspan><tspan dy="-8.7">=40</tspan><tspan font-size="13" dy="-10.7">o</tspan><tspan dy="10.7">,</tspan></text>
<text x="130.4" y="471.2" font-size="22" letter-spacing="-0.1">S=456(21st June 2023),U<tspan font-size="14" dy="8.6">la</tspan><tspan dy="-8.6">=4.5,Bi=0.01</tspan></text>
</svg></body></html>
